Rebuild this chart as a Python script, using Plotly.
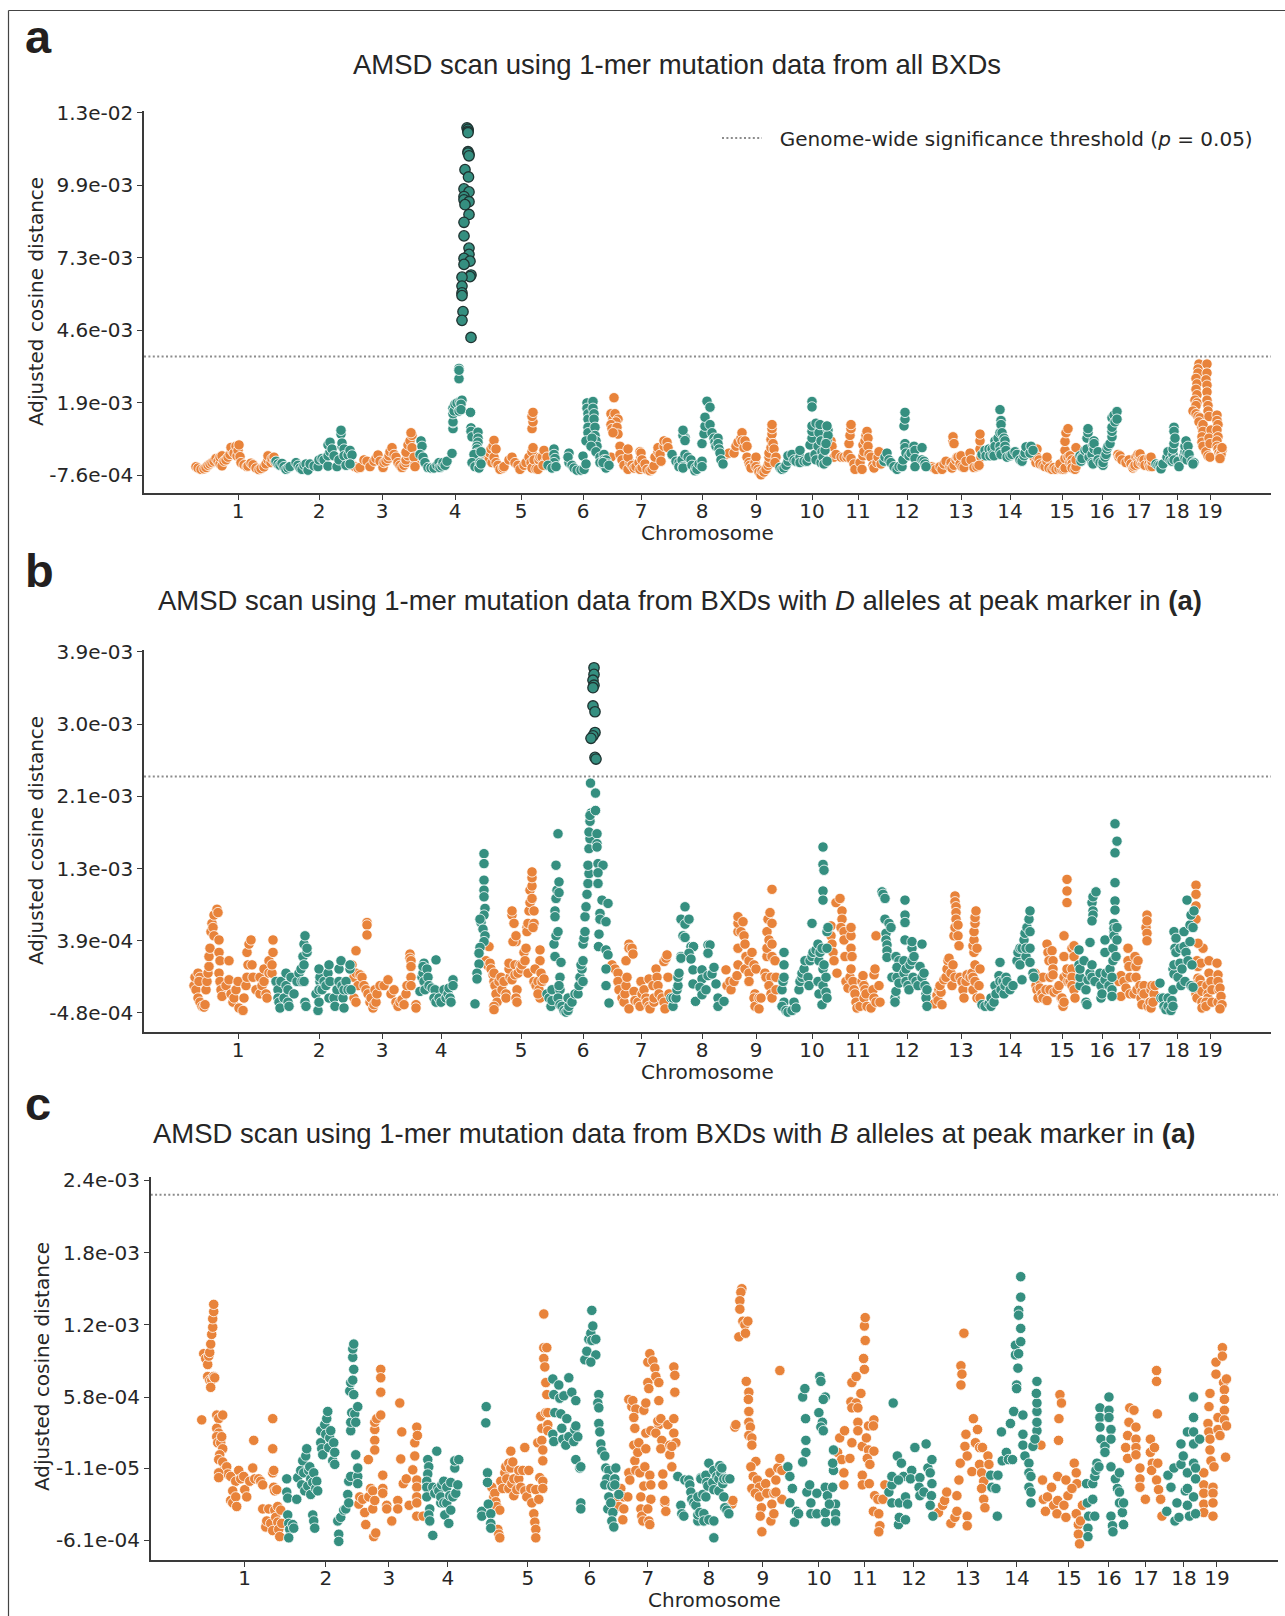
import plotly.graph_objects as go

# All y values are adjusted cosine distances in units of 1e-4.
# x is position along the concatenated genome (arbitrary marker-position units).
chrom_labels = [str(i) for i in range(1, 20)]
ticks_ab_a = [94,175,238,311,377,439,497,558,612,668,714,763,817,866,918,958,995,1033,1066]
ticks_b_c = [94,175,238,297,377,439,497,558,612,668,714,763,817,866,918,958,995,1033,1066]

a_ytick_vals = [-7.6,19.1,45.8,72.5,99.2,125.9]
a_ytick_text = ["-7.6e-04","1.9e-03","4.6e-03","7.3e-03","9.9e-03","1.3e-02"]
b_ytick_vals = [-4.8,3.9,12.6,21.3,30.0,38.7]
b_ytick_text = ["-4.8e-04","3.9e-04","1.3e-03","2.1e-03","3.0e-03","3.9e-03"]
c_ytick_vals = [-6.1,-0.11,5.8,11.8,17.8,23.8]
c_ytick_text = ["-6.1e-04","-1.1e-05","5.8e-04","1.2e-03","1.8e-03","2.4e-03"]

a_threshold = 36.1
b_threshold = 23.7
c_threshold = 22.6

a_peak = [(324,119.4),(323,120.3),(324,119.8),(324,119),(324,118.5),(324,111.5),(325,110.6),(324,111),(325,110),
(321,104.9),(324.5,102.2),(320,97.8),(325,96.7),(320,95),(320,93.8),(325,93.1),(321,92),(325,88.4),(320,85.5),(320,80.5),
(325,76),(325,73.7),(320,72.2),(326,71.2),(320,70),(327,66.1),(326,65.5),(318,65.3),(318,62),(318,59.5),(318,58.5),
(319,52.6),(318,49.4),(327,43.1)]

a_orange = [
# chr1
(52,-4.5),(54,-5),(57,-5.5),(60,-5.3),(62,-4.8),(64,-4),(66,-3.5),(68,-3),(70,-2.5),(72,-1.5),(74,-2.5),(76,-3.5),(78,-4.2),(76,-1),(78,-0.5),(80,-2.5),(82,-2),(84,-1),(86,0),(88,1.5),(87,2.6),(90,0.5),(92,3),(93,-0.5),(94,1.5),(95,3.5),(96,-0.8),(97,-3),(100,-3.8),(103,-4.5),(104,-4.3),(107,-3.2),(109,-3.8),(112,-5),(115,-5.6),(117,-5.2),(120,-4.6),(122,-3.5),(124,-2),(124,-0.5),(127,-3),(128,-1.5),(130,-1),(131,-2.8),
# chr3
(209,-4),(211,-4.5),(214,-5),(216,-4.8),(220,-2),(223,-2.5),(226,-4.5),(230,-2.5),(232,-1.5),(234,-0.2),(236,-2.5),(239,-4.8),(240,-3),(242,-2.5),(244,-1.5),(245,-0.5),(246,1),(248,2.5),(250,0),(252,-1),(254,-3),(256,-4),(258,-4.8),(260,-4),(262,-3),(262,-2),(264,-0.5),(262,0.8),(264,3.5),(266,5),(268,7),(267,8),(268,2.5),(271,-3.5),(270,-1),(271,-4.5),
# chr5
(341,-0.5),(343,-1.5),(345,-2),(346,0.5),(347,2),(348,-3),(349,3),(350,5.2),(350,-1),(352,2),(352,-3),(354,-4),(356,-5.5),(359,-5),(360,-4.5),(365,-2),(368,-1),(371,-3),(374,-4),(376,-5.5),(380,-4),(382,-3),(385,-1),(387,-3),(388,-5),(388,1),(389,2.5),(388,9.5),(389,12),(388,14),(389,15.5),(390,-2),(392,-5.3),(394,-5.5),(395,-2),(396,-1),(398,-1),(400,1.5),(401,-3),(399,-4),(403,-1),
# chr7
(470,20.9),(467,15),(469,13),(471,15),(474,13),(472,12),(467,11),(468,9.5),(473,10),(474,7.5),(469,8),(467,-1),(476,3),(476,0),(478,-2),(480,-4),(484,-5.5),(486,-3),(484,-1),(484,2),(488,-4),(490,-5),(492,-4.5),(495,-3),(496,-5.5),(498,-4.8),(496,1),(497,-1),(497,0.5),(498,-2),(501,-3.5),(503,-5.5),(506,-6),(508,-5.5),(510,-4.2),(511,-1),(514,1),(514,2.5),(516,0),(517,-2.5),(520,3),(520,5),(523,4.5),(524,2.5),
# chr9
(581,-0.2),(585,0.5),(590,0.5),(592,3),(594,4.5),(597,6),(598,8),(598,5),(600,2.5),(601,5),(603,3),(603,-1),(605,-3),(606,-4),(607,-5),(611,-3),(612,-1),(612,-4.5),(614,-5.5),(615,-6.5),(617,-7.5),(618,-6),(620,-6.5),(622,-5.5),(624,-4),(625,-3),(625,-1),(625,0.5),(627,2.5),(627,5.5),(628,7.5),(628,9.5),(628,11),(629,4),(630,2),(632,-1),(631,-3),
# chr11
(687,5),(688,3),(690,-1),(692,0),(697,-1),(700,-1),(703,-1),(705,4),(706,7),(707,9.5),(707,11),(704,0),(707,-1.5),(710,-3.5),(711,-5.5),(716,-3),(718,-5.5),(719,-0.5),(719,3.5),(720,1),(721,5),(722,7),(723,8.5),(724,6),(724,3),(725,0),(727,-1),(729,-4),(730,-5),(733,-3),(734,-1),(735,1),(737,-3.5),
# chr13
(788,-4.5),(790,-5),(792,-5.5),(796,-4.5),(798,-5.5),(800,-3.5),(802,-2.5),(806,-4.5),(807,-3),(808,-5),(810,-4),(812,-2),(813,-1),(809,5),(809,6.5),(810,4),(814,-1),(816,-3.5),(817,-0.5),(818,-4.5),(820,-4.8),(822,-2.5),(826,0.5),(827,-2),(830,-4.8),(833,-4.5),(837,-1),(836,2),(836,5),(836,7.5),(835,-4),
# chr15
(893,2),(890,0.5),(890,-1),(892,-3),(893,-1),(895,-2),(896,-3.5),(899,-4),(901,-4.5),(903,-2.5),(903,-1),(905,-5),(908,-5.5),(910,-4.8),(912,-5.5),(915,-5.2),(918,-5.5),(916,-3.5),(920,-5.5),(921,-5),(921,-1.5),(921,1.5),(921,4.8),(922,8),(924,9.5),(924,-1),(926,-0.5),(926,-3),(928,-2),(928,-3.5),(928,-5),(931,-5.5),(932,-4.5),(932,-2),(932,2.5),
# chr17
(974,0),(975,-1),(976,-0.5),(978,-2),(982,-3),(985,-2),(987,-3.5),(989,-5),(990,-4.5),(991,-4),(992,-1),(994,-2),(994,-3.5),(994,0),(996,-1),(997,-3),(996,0.2),(998,-2),(999,-3.5),(1000,-2),(1001,-4),(1005,-1.5),(1005,-3.5),(1006,-4.5),(1008,-3),(1008,-4.5),(1008,-2.5),(1007,-1),
# chr19
(1055,33.3),(1054,31.5),(1054,30),(1052,28),(1053,26),(1052,24),(1053,22),(1051,20),(1053,19),(1052,18),(1049,16),(1052,15),(1054,14),(1056,13.5),(1055,12),(1058,10),(1059,11),(1059,8.5),(1058,6.5),(1058,4.5),(1059,3),(1062,1),(1063,33.3),(1063,30),(1062,27.5),(1063,25.5),(1063,23),(1063,20),(1064,18),(1064,16),(1065,14),(1067,9),(1065,6),(1066,4),(1064,-0.5),(1066,-1),(1073,14.5),(1073,12.5),(1074,11),(1073,9),(1074,6.5),(1073,5),(1073,3),(1074,2),(1075,0.5),(1076,-0.5),(1078,1.5),(1077,0),(1078,2.5),(1076,-1.5)]

a_teal = [
# chr2
(132,-2.5),(134,-3.5),(136,-4),(138,-3.3),(140,-4.5),(142,-5.5),(144,-5),(146,-4.5),(152,-3),(154,-4),(156,-5),(158,-5.5),(160,-4),(162,-3.5),(164,-5.8),(166,-3.5),(170,-4.2),(174,-4.5),(175,-2),(178,-1.5),(180,-2),(184,-4.3),(184,-0.5),(186,1),(184,3.5),(186,4.5),(188,2),(190,-0.5),(193,-4.5),(195,-2),(197,7.5),(197,8.9),(198,3),(198,4.2),(200,2),(200,-0.5),(202,-4),(204,-0.2),(206,1.5),(208,-0.2),(206,-3.5),
# chr4
(277,5),(278,3),(276,0),(279,-1),(281,-3),(284,-4.8),(287,-5),(290,-5),(293,-4),(295,-3),(296,-4.8),(298,-4.3),(299,-3),(301,-4),(303,-2.5),(308,0.4),(309,9.5),(309,11.7),(309,12),(309,15),(309,17),(310,16),(311,18.5),(313,19),(316,19.5),(318,20),(315,16),(317,18.5),(317,16.5),(315,27.9),(315,31.7),(315,31),(326.5,15.5),(327,9.8),(327,8.5),(328,6.5),(334,8.2),(334,6),(334,4.5),(333,3),(333,2),(333,0.5),(334,-1),(330,0),(328,-3),(331,-4.5),(335,-5),(336,-3),(337,1),(337,-3.5),
# chr6
(410,2),(410,0),(411,-1.5),(410,-3),(404,-4),(408,-5),(412,-4.5),(425,0.5),(425,-3),(424,-1),(428,-4),(430,-5),(433,-5.8),(437,-5.8),(440,-5.5),(439,-0.6),(442,-3.5),(443,19),(443,17),(444,15),(444,13),(444,10),(444,8),(442,5),(449,19.5),(449,17),(450,15),(450,13),(451,10),(451,7),(452,5),(453,3),(448,6),(447,3),(452,1),(456,-1),(456,-3),(460,0),(460,-2),(462,-2),(464,-3.5),(460,-4),(462,-5),(459,-3),(465,-4),
# chr8
(528,0),(532,-2.5),(535,-3),(535,-4.5),(538,-2),(539,-4.5),(539,-5),(541,6.3),(539,7),(539,8.9),(541,5.1),(541,0),(544,-1),(547,-2),(548,-4),(551,-6),(552,-4.8),(553,-5.5),(555,-3.5),(558,-2.5),(558,-4.5),(558,4),(560,7.6),(561,10.4),(561,13.7),(563,19.6),(566,17.4),(566,11),(568,8),(570,6),(571,4.5),(572,3),(574,6),(574,4),(575,2),(576,0.5),(577,-2),(579,-3.5),
# chr10
(636,-4.8),(638,-5.5),(640,-5),(642,-4),(644,-2.5),(644,-0.5),(648,0),(650,-2),(652,-2.5),(656,-1),(656,-3),(656,1.5),(660,-2.5),(663,-2.5),(665,-1),(666,3.5),(668,6),(668,8.5),(668,10.5),(668,19.5),(668,17.5),(671,0),(672,-2),(672,11.5),(674,3),(675,8),(676,11),(677,5),(678,1),(677,-3),(679,-1),(680,-3.5),(681,1.5),(683,5),(684,9),(684,7),(683,10.5),(682,4),(683,-2.5),
# chr12
(740,-2.5),(741,-1),(743,0.5),(745,-2),(747,-3),(750,-4.5),(753,-5.5),(755,-4.5),(758,-4.5),(759,-2),(760,10.5),(761,13),(761,15.5),(761,4),(761,2.5),(762,0.5),(765,-0.5),(767,0.5),(770,3),(771,1.5),(771,-1.5),(771,-4.5),(778,-2),(778,2.5),(780,-2.5),(781,-3.5),(782,-4.5),
# chr14
(838,0),(841,1.5),(842,-0.5),(845,2),(846,-0.5),(848,2),(849,0),(850,-0.5),(851,5),(851,3),(854,6),(856,8),(856,3),(856,1),(857,0),(856,16.5),(857,12.5),(857,11),(858,8),(860,6),(861,5),(861,3),(862,1.5),(863,-1),(866,-0.5),(868,0),(871,1),(873,0),(876,-2),(878,-2.5),(880,-0.5),(881,0.5),(882,2.8),(886,0.5),(887,3),(889,1.5),
# chr16
(936,-0.5),(938,-1),(937,-2.5),(938,-1.5),(941,1.5),(945,-1),(943,2),(943,6),(944,8),(944,9.5),(948,0),(948,-3),(949,-3.5),(949,3.5),(950,2),(950,5),(950,4),(954,1),(954,-2),(956,-3),(959,-4),(959,-3),(961,-1),(962,0),(963,2),(964,3),(966,4),(968,6.5),(968,8.5),(968,10),(968,13.5),(970,14.5),(971,12),(973,15.8),(973,13),
# chr18
(1012,-3.5),(1014,-4),(1016,-4),(1017,-5.3),(1019,-3.5),(1023,-1),(1024,1),(1026,-2),(1028,-2.5),(1029,0),(1029,2),(1030,4),(1030,-2),(1030,10),(1030,8.5),(1031,6),(1034,-2.5),(1035,-4.5),(1040,-0.5),(1041,1),(1041,3),(1042,5),(1041,-1.5),(1043,0.5),(1043,-2),(1044,3),(1045,0),(1048,-2.5),(1050,-3),(1049,-3.5)]

b_peak = [(450,36.8),(450,36),(449,35.3),(450,34.7),(449,34.4),(449,32.2),(451,31.5),(451,29),(449,28.6),(447,28.3),(451,26),(452,25.8)]

b_orange = [
# chr1
(50,-1.5),(51,-0.5),(52,-2),(54,0),(56,-0.5),(55,-1),(54,-3),(56,-3.5),(58,-4),(60,-4.1),(61,-3.8),(62,-2),(63,-1),(64,0),(65,0.8),(65,2),(66,3),(67,5),(68,6),(69,5.5),(70,4.5),(70,7),(73,7.7),(74,7.3),(75,4),(75,2.5),(76,1.5),(75,0),(76,-1),(77,-2),(78,-2.8),(82,-1.5),(85,1.5),(85,-0.8),(87,-2.5),(89,-3.5),(90,-3),(92,-2),(94,-1),(95,-4.2),(99,-4.5),(100,-3),(102,-1.5),(103,-0.5),(104,1),(103,2.5),(105,3.5),(107,4),(108,1),(109,-0.5),(112,-2),(116,-0.5),(116,-2.5),(118,-1.5),(120,0.5),(120,-1),(122,-2.5),(123,-3),(125,1.5),(125,0),(128,0),(129,2.5),(129,4),(128,1),
# chr3
(208,1),(210,-0.5),(210,-3),(212,0),(212,2.7),(212,-3.5),(214,-1.5),(216,-0.2),(218,-0.5),(220,-1.5),(222,-2),(223,6.1),(223,5.8),(223,4.6),(224,-2.5),(226,-3.5),(227,-3),(229,-4.2),(230,-3.8),(232,-3.5),(231,-2),(233,-2.5),(236,-1.5),(240,-1.5),(244,-0.8),(247,-2.5),(250,-2),(252,-3.5),(254,-4),(256,-3.5),(258,-3.2),(260,-3.8),(262,-2.5),(263,-1.5),(266,2.3),(266,1.8),(267,1.5),(267,0.8),(267,-0.5),(267,-1.5),(272,-3.8),(272,-4.2),
# chr5
(342,1.5),(344,0.9),(346,1.2),(345,3.2),(347,0.5),(349,-0.2),(350,-1),(351,-1.5),(352,-2.5),(350,0),(353,-3.5),(350,-4),(350,-4.4),(355,-1),(357,-0.5),(358,-2),(360,-1),(362,-2.5),(362,-3),(366,-0.5),(365,0.5),(365,1.2),(368,-0.8),(371,1),(371,-0.2),(372,3.8),(369,3.8),(368,7),(368,7.5),(370,6),(372,4.5),(373,-2),(372,-3),(373,-3.5),(374,0),(376,1),(377,0.5),(380,2.5),(378,1),(381,1.5),(382,3),(384,0),(383,5.5),(383,5),(384,6),(385,7.5),(386,8.5),(386,10),(388,10.5),(388,11.5),(388,12.2),(388,9),(390,7.5),(390,6),(389,5.5),(396,2.8),(396,1.5),(391,0.5),(390,-1),(392,-1.5),(394,-1),(395,-2),(396,-3),(397,0),(394,-2.5),(398,-1),(400,-0.7),
# chr7
(468,1),(471,0.5),(474,0),(474,-1),(475,-2),(478,-3),(480,-3.5),(481,-2.5),(482,-1.5),(483,-0.5),(485,3.5),(482,1.5),(485,3),(488,3),(489,2.3),(485,-4.3),(490,-2.2),(491,-3.3),(494,-3.5),(496,-4),(498,-2.5),(497,-1),(500,-2),(502,-3),(503,-3.5),(505,-4),(506,-4.3),(505,-0.7),(509,-1.5),(510,-3.5),(510,-3),(512,0.5),(513,-0.5),(514,-1.5),(515,-2.5),(518,-3),(520,-3.5),(521,-4.3),(520,1.4),(522,1.8),(523,2.2),(524,-0.5),(525,-2.5),
# chr9
(582,0.4),(583,-1.5),(586,-1),(587,-2),(590,-1),(593,-0.3),(594,1),(594,3),(594,5),(594,6),(594,6.8),(597,5),(599,6.2),(600,4.5),(601,3.5),(602,2),(601,0.5),(605,0),(605,-1),(605,1.5),(608,2.5),(610,1),(611,-2.5),(612,0.5),(610,-3),(611,-4),(615,-3),(615,-4.3),(617,-3),(621,0),(622,-0.5),(623,2),(623,3),(624,6.5),(623,5),(625,4),(626,7.3),(628,6),(628,3.5),(628,2),(627,-0.5),(625,-1.5),(627,-2.5),(628,-3),(631,1.5),(632,-0.5),(632,-2),(628,10.1),
# chr11
(687,5.7),(687,4.5),(688,3.5),(689,2.5),(690,1.5),(693,0),(692,8.5),(696,9),(698,7.5),(698,6.5),(697,5.5),(700,5),(700,4),(701,2),(702,-1),(704,-1.8),(706,-0.5),(707,0.5),(707,3),(707,4.5),(707,5.5),(708,2),(709,-1),(710,-2),(711,-2.5),(712,-3.5),(713,-4.2),(716,-4),(718,-1),(719,-0.3),(720,-1.5),(721,-2),(720,-3),(722,-2.5),(723,-4),(727,-4.2),(729,-2),(730,-3),(730,-0.2),(731,0.5),(732,-3.5),(735,-1.5),(736,-3.5),(732,4.5),
# chr13
(790,-3.7),(793,-2.7),(794,-3.3),(795,-2),(797,-2.3),(796,-1.5),(798,-3.8),(800,-0.8),(802,-0.5),(803,0.5),(804,1.5),(805,1.8),(807,0),(808,-1.5),(809,1),(811,-0.5),(810,4.5),(811,9.3),(811,8.6),(812,8),(812,7.3),(812,6.5),(811,5.5),(814,5.8),(814,4.5),(815,3.3),(816,-0.5),(818,-1),(819,-2),(820,-3),(822,-1),(823,-0.2),(826,-0.5),(828,0),(829,-2),(829,-0.5),(830,2.5),(829,3.3),(830,4),(830,5),(831,6),(831,6.7),(832,7.5),(831,1),(831,-1),(833,3),(833,-3),(835,-1.5),(836,-3),(836,0.5),
# chr15
(891,0),(892,-1.5),(893,-2),(894,-3),(895,-0.8),(896,-1.8),(898,-2.5),(899,-3),(899,-0.5),(902,-2),(903,-3.3),(903,3.5),(904,2.5),(905,1.5),(906,-0.5),(906,-2),(908,2.7),(909,1.5),(909,0.5),(909,-0.2),(910,-2.3),(913,-2),(915,-1.5),(917,-3),(918,-3),(919,-4),(920,-3.5),(920,-0.5),(920,2),(920,4.5),(924,-1),(926,-1),(923,0),(923,0.5),(923,11.3),(923,9.9),(923,8.5),(928,3),(930,3.3),(930,2),(928,0.5),(928,-0.5),(928,-1.5),(930,-2),(931,-3),
# chr17
(975,-1),(977,-0.3),(977,-2.8),(980,-1),(982,-1.8),(984,3),(984,1.5),(985,0.8),(986,-0.5),(986,-2.5),(990,-2.5),(991,2),(992,0.8),(992,-0.5),(993,-2),(994,1.5),(996,-1.5),(997,-3),(998,-2.2),(998,-3.8),(1000,-1.5),(1000,-2.5),(1002,5.5),(1003,7),(1003,6.3),(1003,4.8),(1003,3.9),(1004,-4),(1006,-3.5),(1007,-2),(1007,-4.2),(1008,-1.5),(1010,-2.5),(1009,-3.5),(1011,-1.5),
# chr19
(1053,1.5),(1054,0.8),(1054,-0.6),(1053,-1.3),(1052,-2.5),(1053,-3),(1056,-0.8),(1057,-1.5),(1058,-2.2),(1058,-3.5),(1058,-4.2),(1059,3),(1057,1.2),(1052,10.6),(1052,9.5),(1052,8.1),(1052,6.5),(1054,3.6),(1063,-1.5),(1064,-2.5),(1064,-3),(1065,1.5),(1065,0),(1062,-3.5),(1062,-4),(1067,-1),(1068,-2),(1068,-3.5),(1073,1.2),(1074,-0.2),(1074,-1),(1075,-2),(1074,-3.5),(1076,-1.8),(1077,-2.8),(1078,-3.8),(1076,-4.3)]

b_teal = [
# chr2
(132,-1),(134,-2),(134,-3),(135,-3.5),(136,-4.2),(137,-1),(140,-3),(142,0),(142,-1.5),(144,-2),(144,-3.5),(145,-4),(147,-0.5),(150,-2.5),(153,-1),(155,0),(157,0.5),(158,-1),(159,2),(160,1),(160,3.5),(160,-1),(161,4.5),(163,2.5),(163,3),(161,-3.5),(162,-4),(172,-2.5),(174,-4.5),(175,-3.5),(176,-1),(175,-2),(176,-0.5),(175,0.5),(178,-2),(180,-1),(182,-1.5),(184,0),(185,-3),(186,-1),(185,1),(190,-3),(191,-4),(193,-2),(195,-1),(195,0.5),(197,1.5),(198,-1.5),(199,-3),(200,-2),(200,-4.2),(202,-1),(204,-2),(206,0.5),(206,1),(207,-2),
# chr4
(276,-2.2),(278,-0.5),(279,0),(280,1.2),(279,0.8),(280,-1),(281,-2),(283,0.5),(284,-0.5),(285,-1.5),(288,-1.8),(291,-2),(290,-3),(292,-3.5),(292,1.6),(295,-3),(297,-3.5),(300,-2),(302,-3),(304,-2.5),(305,-1.8),(306,-3),(307,-3.5),(309,-0.8),(309,-1.5),
(331,-3.7),(340,14.4),(340,13.2),(340,11.2),(340,10),(340,9.2),(341,7.8),(340,7),(337,6.1),(336,6.5),(339,5.3),(341,4.5),(340,3.8),(336,3.1),(335,2.4),(335,1.1),(333,0),(333,-0.7),
# chr6
(403,-2.5),(405,-3),(407,-4),(408,-3.3),(408,-2),(411,2),(410,3.5),(411,7.5),(411,6.8),(412,9),(413,10),(414,16.8),(412,13),(415,11),(415,9.7),(412,4.5),(414,5),(416,-0.5),(417,1.3),(416,-2),(415,-1.5),(414,-3),(416,-3.8),(418,-4),(420,-4.5),(422,-4.7),(424,-4.5),(425,-4),(424,-3),(428,-3.5),(431,-2.5),(434,-2.5),(435,-1.5),(436,-0.5),(438,0.5),(437,1),(439,1.5),(439,-1),(439,3.5),(440,4.2),(441,5),(441,6.8),(442,8),(443,9.5),(444,10.8),(445,12),(444,13),(445,15),(446,16.2),(445,17),(446,18.3),(447,19.3),(446,19),(446.5,22.9),(451.5,21.7),(451.5,19.6),(453,16.8),(453,15.6),(453,15.2),(454,13.2),(459,13),(454,12.1),(454,10.8),(458,8.8),(464,8.4),(456,7.2),(456,6.5),(462,6.2),(455,4.7),(454.5,3.2),(462,2.8),(464,2.2),(462,0.5),(462,-1.5),(465,-3.6),
# chr8
(527,-3),(529,-4),(529,-3),(532,-3),(533,-2),(534,-1.5),(534,-0.5),(535,0),(537,2),(541,8),(537,6.5),(541,5.9),(545,6.5),(539,4.5),(541,4.3),(547,3.2),(549.5,3.2),(545,2.4),(537,1.8),(547,1.7),(549,0.4),(549,-1.3),(551.5,-3.4),(558,0.4),(564,3.4),(566,3.4),(564,2.4),(558,-0.7),(556,-1.7),(558,-2.6),(562,-2),(564,-0.3),(568,-0.1),(570,0.7),(572,-1.3),(574,-3),(574,-4),(580,-3.4),
# chr10
(638,-2),(639,-1),(640,-0.5),(640,1),(640,2.5),(640,-3.5),(638,-4),(642,-4.5),(644,-4.7),(648,-4.5),(650,-3.5),(652,-4.2),(655,-2),(656,-1),(658,-0.5),(658,0),(660,0.5),(661,1.5),(664,-0.5),(666,1.5),(665,-1.5),(668,2),(669,2.5),(672,2.8),(668,6),(674,-1),(675,-2.5),(675,1.5),(674,3.5),(676,2.5),(678,-3.8),(678,3),(679,0.5),(679,-1.5),(680,1),(682,-0.5),(683,5),(684,5.5),(682,-2.3),(683,-3),(679,15.2),(679,13.1),(680,12.4),(679,9.9),(679,8.8),(683,3),
# chr12
(738,9.8),(739,9.5),(741,9),(741,6.5),(745,6),(742,4.8),(742,4),(743,3.4),(743,2.7),(743,1.9),(747,5.5),(752,2),(755,1.5),(751,-3),(751,-3.5),(752,-2.2),(748,-0.5),(753,-0.5),(755,-1.2),(753,0.7),(760,0),(760,1.5),(761,4),(761,7),(761,6.1),(761,8.8),(762,0.5),(762,-1),(764,-1.5),(765,-2),(766,1),(768,1.5),(768,3),(768,3.8),(769,-0.5),(770,2),(772,-1),(774,-1.5),(776,0.8),(778,3.5),(778,-0.5),(780,0),(781,-1.5),(782,-2.5),(782,-3),(783,-2),(783,-4),
# chr14
(838,-3.8),(841,-4),(845,-3.7),(847,-3),(847,-4),(850,-3.5),(851,-1.5),(852,-2.5),(855,-0.3),(856,-1),(856,1.3),(857,-2),(859,-1),(860,-2.5),(861,-1.5),(862,-0.5),(863,-1),(866,-2),(869,-1.5),(873,1.5),(874,2.5),(876,1),(876,3),(878,-0.8),(878,3),(880,4),(881,4.8),(882,2),(882,3),(883,5.5),(885,6.5),(886,7.5),(886,3),(886,1.3),(886,5),(889,0),(890,-0.5),
# chr16
(936,-1.5),(935,1),(935,2.8),(936,-0.5),(936,0.5),(940,1.5),(942,-2),(942,-3.5),(943,-3.8),(944,-0.8),(946,0),(946,3.7),(948,-0.5),(948,1),(948,8.5),(949,9.2),(949,7.5),(949,7),(948,6.3),(951,-1),(952,9.8),(956,0),(957,-1.5),(957,-3),(958,-2.5),(961,-0.8),(961,2.5),(961,4),(962,0),(965,-1.5),(966,0.5),(968,-0.5),(968,-2),(968,-2.8),(970,6),(970,5),(970,5.4),(970,4.5),(969,3),(969,1.5),(972,2),(973,4),(973,5.5),(971,8.7),(971,7.6),(971,10.9),(971,14.5),(973,15.9),(971,18),
# chr18
(1016,-1.2),(1017,-3),(1019,-3),(1020,-4),(1022,-4.4),(1024,-3),(1024,-4),(1027,-4.5),(1028,-3.3),(1029,-2),(1029,-4),(1029,0.5),(1030,-0.1),(1030,1),(1030,5),(1032,4.2),(1031,3),(1032,2.5),(1034,-0.5),(1036,1.2),(1036,3),(1037,-1.5),(1038,0.5),(1040,5),(1040,3.2),(1041,-1),(1042,2.5),(1043,8.8),(1044,1.5),(1046,3.8),(1046,5.8),(1047,7),(1047,-1.5),(1048,1),(1049,-1.7),(1049,5.5),(1050,7.5)]

c_orange = [
# chr1
(51,3.9),(53,9.4),(55,9),(57,8.5),(57,7.5),(58,9.2),(59,9.5),(60,10.2),(61,11),(62,11.6),(62,12.3),(63,12.9),(63,13.5),(59,7.2),(61,7.2),(63,7.5),(64,7.4),(60,6.6),(66,4.3),(68,4),(72,4.3),(66,3.2),(68,2.8),(66,2.5),(67,2),(70,2),(71,2.5),(72,1.5),(69,1),(68,0.6),(72,0.4),(74,-0.2),(76,0),(77,-0.6),(68,-0.5),(68,-0.9),(80,-0.8),(85,-1.2),(82,-2),(80,-2.8),(82,-3),(85,-2.5),(86,-3.3),(88,-0.3),(90,-1),(93,-0.8),(94,-1.9),(96,-2.5),(99,-1.2),(102,-0.1),(103,2.2),(104,-1),(108,-1),(110,-1.2),(112,-1.5),(112,-3.5),(115,-5),(116,-4.5),(118,-3.5),(120,-4.7),(122,-5.3),(122,-0.5),(123,-1.7),(123,-0.3),(122,1.5),(122,4),(124,-2),(126,-1.9),(124,-3.6),(125,-4.2),(127,-3.3),(127,-4.6),(128,-5.2),(129,-5.8),(131,-4.7),(130,-3.6),
# chr3
(208,-3.1),(209,-2.5),(212,-2.7),(214,-3.8),(215,-4.8),(218,-2.5),(220,-1.8),(222,-2),(222,-3.5),(223,-5.8),(225,-5.5),(217.6,0.6),(224,-2.8),(224,3.1),(224,3.7),(226,4),(224,2.2),(224,1.4),(230,8.1),(230,7.4),(230,6.2),(230,4.3),(232,-0.7),(232,-1.8),(232,-2.2),(236,-3.2),(236,-3.5),(241,-4.5),(247,-2.8),(247,-3.5),(249,5.3),(251,2.9),(250,0.65),(252.5,-1.4),(255.5,-1),(258.4,-3.2),(262,-0.25),(264,0.9),(264,2),(266,3.3),(266.6,2.6),(266,-1.1),(266,-1.7),(266,-2.5),(266,-3),(266,-4.1),(272.3,-4.1),
# chr5
(341,-1.7),(343,-2.5),(344,-2.2),(345,-2.9),(346,-3.3),(349,-3.6),(347,-5.2),(348,-5.6),(349,-5.9),(350,-1.2),(352,-1.8),(354,-0.5),(355,0),(356,-1),(358,-1.8),(358,0.3),(360,1.3),(360,-0.1),(362,0.4),(361,-1.4),(363,-1),(363,-2.4),(366,-1.9),(368,-1),(368,-0.3),(370,-1.7),(372,-0.3),(374,1.6),(374,-2),(376,-2.5),(378,-0.3),(380,-1.8),(381,-3),(383,-3.9),(384,-4.6),(385,-5.2),(385,-5.9),(385,-1.9),(387,2),(388,-2.7),(389,-0.9),(390,4.2),(391,3.2),(391,2.2),(392,0.5),(392,1.4),(392,-1.2),(392,-1.8),(393,12.7),(393,9.9),(393,9),(396,9.9),(394,8.3),(395,7),(396,6),(395,4.5),(397,4.5),(397,3.5),(397,3),
# chr7
(466,-2.5),(468,-3.3),(470,-1.8),(472,-4.4),(473,-2.5),(473,-3.5),(477,-2.5),(478,-0.5),(479,-1.1),(478,5.6),(481,5),(482,5.5),(485,4.8),(483,4.1),(484,3.2),(483,1.8),(484,0.5),(485,-0.3),(487,1.2),(488,2),(489,-0.5),(490,-2.5),(490,-3.5),(491,-4.1),(492,-4.5),(493,-1.6),(494,0),(495,1.5),(495,2.8),(493,4.7),(495,5.3),(497,7),(497,8.7),(499,9.4),(498,6.5),(502,8.8),(504,8.2),(505,7.5),(508,7),(508,5.5),(508,3.5),(500,3),(499,-0.7),(500,-1.5),(500,-2.7),(497,-3.5),(498,-4.5),(499,-4.8),(505,2.8),(507,3.8),(510,4),(511,2.2),(510,1.5),(512,-0.6),(512,-1.5),(514,-3),(515,-3.7),(514,-2.8),(517,3.5),(519,1.8),(519,1),(523,8.3),(524,7.6),(524,6.2),(523,4),(523,2.8),(525,2),(521,1.7),(521,0),
# chr9
(581,-3.1),(582,-2.8),(584,3.3),(585,3.5),(588,10.8),(591,14.8),(590,14.5),(589,13.8),(589,13.1),(592,12.1),(594,11.8),(597,12.1),(594.6,11.1),(595.4,7.1),(598,6.2),(597.5,5.6),(598,4.6),(598,3.7),(599.5,3.3),(598,2.6),(601,2.4),(601,1.8),(605,0.45),(600,0),(602.4,-0.8),(606.5,-1.1),(601,-1.8),(608.6,-1.7),(604.5,-2.2),(608.6,-2.5),(610.6,-3.4),(609.4,-4.1),(611,-5.4),(614.8,-1.4),(619,-0.5),(616,-2.2),(621,-3.1),(623,-2.2),(625,-1.1),(627,-0.1),(629,0.7),(631,-0.3),(631,-2.7),(620,-4.5),(625,-2.1),(623,-3.9),(629,8),
# chr11
(688.8,2.4),(686.7,1.2),(690.9,0.6),(693.7,3),(693,-0.5),(693,-1.5),(699,0.7),(701,2),(701,7),(705.3,7.5),(700,5.4),(705.3,5.3),(701,4.9),(707,4.9),(710,6.1),(707,3.7),(707,3),(711.4,1.7),(715.5,2.4),(717.6,3.4),(723,3.9),(722.5,3.4),(713.5,8.1),(712.7,9),(714.3,10.5),(713.5,11.7),(714.3,12.4),(717.6,1.4),(716.4,0.7),(719,0.2),(723,1.3),(711.4,-0.7),(711.4,-1.5),(718.4,-1.4),(723.8,-2.4),(727,-2.7),(722.5,-3.7),(727.9,-3.9),(729,-4.9),(727.9,-5.4),(734,-1.5),(732,-2.7),
# chr13
(787.5,-3.8),(791.7,-3.2),(793.7,-2.8),(795.8,-2.1),(800,-4.7),(804,-4.2),(806,-3.7),(806,-2.4),(808,-1.1),(809.3,0.3),(810,8.4),(811,7.7),(810,6.8),(813,11.1),(814,1.7),(815,2.7),(816.3,0.9),(816.3,-4.1),(816.3,-4.9),(821,-0.4),(824.5,2),(822.5,4),(826.6,3.1),(828.7,1.6),(831.5,1.6),(828.7,0.2),(830.7,-0.5),(832.8,-1.2),(830.7,-1.8),(832.8,-2.7),(834,-3.4),(837,0.9),(838,0.2),
# chr15
(890,1.8),(891.6,-1.1),(892.4,-2.7),(894.5,-3.7),(896.5,-2.5),(900.6,-1.7),(902.7,-3.2),(906.8,-2.8),(906.8,-0.8),(906,-3.9),(908,4),(907.6,2.2),(909,6),(910.5,5.3),(913,-3.2),(915,-1.1),(915,-4.2),(917,-2.4),(923.3,0.3),(925.3,-0.5),(926,-1.4),(921,-1.8),(925.3,-3.9),(927.4,-4.8),(927.4,-5.6),(928.6,-6.4),(931.5,-3.2),(929.5,-4.5),
# chr17
(974.7,1.6),(976.7,2.6),(978,3.7),(978.8,4.9),(976.7,0.7),(983,4.7),(985,3.3),(985,2.3),(985,1.6),(985,1),(989,-0.1),(989,-1),(989,-1.7),(994.4,-2.7),(999.4,2.3),(999.4,1.2),(1001.4,0.3),(1000.6,-0.3),(1005.6,8),(1005.6,7.1),(1006.4,4.4),(1003.5,1.6),(1006.8,0.3),(1005.6,-1.1),(1007.6,-1.9),(1009.7,-2.7),(1011,-4.1),
# chr19
(1052.8,-0.5),(1052.8,-1.5),(1052.8,-2.2),(1052.8,-3.1),(1052.8,-3.8),(1057,3.6),(1057.8,2.9),(1059,6.1),(1058,5),(1059,2.3),(1059,1.4),(1060,0.5),(1063,0),(1062,-1.7),(1062,-2.2),(1062,-3),(1062,-4.1),(1065,8.7),(1065,7.7),(1067,4.1),(1067,3.1),(1069,2.6),(1071.4,9.9),(1071.4,9.2),(1072.6,7),(1073.4,6.4),(1073.4,5.6),(1073.4,4.7),(1073.4,3.9),(1075.5,7.3),(1075.5,3.4),(1074.6,0.8)]

c_teal = [
# chr2
(136,-1),(136,-2.1),(137,-2.6),(137,-4),(138,-4.7),(139,-5.2),(138,-5.9),(142,-4.8),(143,-5.1),(146,-2.7),(147,-0.9),(150,-0.3),(151,-1.5),(152,0.5),(153,-0.5),(155,0.9),(156,1.5),(154,-2),(157,-1.6),(158,-0.3),(159,0),(160,-1),(160,-2.3),(162,-1.3),(163,-0.5),(162,-4),(163,-4.5),(164,-5.1),(165,-1.8),(166,-1.2),(167,-2),(170,3),(170,2),(171,1.5),(172,1),(174,3.5),(175,2.7),(176,4),(177,4.6),(178,1.6),(179,2.4),(180,3),(182,0.5),(183,2),(184,1.2),(184,0.2),(188,-5.6),(188,-6.2),(187,-4.5),(190,-4.2),(193,-3.6),(195,-3.5),(197,-2.3),(198,-3),(198,-1.2),(200,-0.8),(200,3),(200,3.7),(201,4.5),(199,6.3),(203,6),(200,7),(202,7.2),(203,8.1),(202,9.1),(202,9.8),(203,10.2),(204,4.4),(207,5),(205,3.7),(205,1),(207,-0.8),(207,-1.4),(207,-0.1),
# chr4
(277,0.6),(278,0),(277,-0.6),(276,-1.2),(276,-1.7),(276,-2.5),(279,-3.5),(278,-4),(279,-4.5),(282,-5.7),(282,-1.7),(284,-2.2),(286,1.3),(287,-1.8),(288,-2),(290,-3),(290,-2.5),(291,-1.5),(293,-1.2),(293,-3),(294,-4),(296,-1.7),(298,-4.7),(296,-3),(299,-2.4),(300,-1.3),(300,-3.6),(302,-2.5),(304,-0.1),(304,0.5),(305,-2.2),(307,-1.5),(308,0.6),
(331,-3.7),(331,-4.1),(337.5,-3.1),(340,-3.9),(340,-4.7),(340,-5.1),(335.4,5),(335,3.65),(336.7,-0.5),(336.7,-1.3),
# chr6
(402,7.3),(403,6),(404,4.5),(402,2.7),(403,2.1),(408,6.8),(409,5.7),(410,4.4),(411,3.2),(412,2.3),(413,5.9),(415,1.8),(416,4),(418,2.5),(418,7.4),(421,6.2),(423,2.1),(424,3.1),(425,5.5),(425,3.4),(427,2.5),(425,0.6),(429,-0.1),(430,0),(430,-3),(430,-3.5),(434,8.9),(436,9.6),(438,10.6),(440,11.1),(441,10.5),(442,11.7),(445,10.6),(445,9.3),(440,8.7),(441,13),(448,6),(447,5.3),(448,4.9),(448,3.6),(449,2.9),(450,1.9),(451,1.3),(454,0.9),(455,-0.1),(458,-0.3),(456,-1),(454,-1.5),(458,-2.5),(457,-3.5),(460,-3),(461,-1.6),(462,-3.8),(464,-1),(465,-0.1),(464,-1.5),(461,-4.5),(463,-5),(468,-2.3),
# chr8
(527,-0.8),(530,-3.2),(531,-3.9),(533,-4.1),(534,-1.1),(538,-1.1),(539,-1.5),(540,-2.1),(541,-2.7),(543,-3),(545,-3.2),(547,-4.5),(547,-4),(547,-2.5),(549,-3.8),(550,-0.9),(550,-1),(552,-2.3),(553,-3.9),(553,-4.5),(555,-2.5),(555,-0.7),(556,-1.3),(557,-1.6),(558,-4.4),(558,0.3),(562,-1.3),(563,-0.3),(563,-1.9),(563,-4.5),(563,-5.9),(566,-0.8),(568,-1),(568,-2),(569,0.1),(570,-0.5),(571,-0.1),(572,-1.4),(573,-2.5),(573,-1),(574,-3.4),(576,-1),(576,-3.6),(578,-3.9),(579,-1),
# chr10
(637,0),(639,-0.8),(641.5,-1.8),(639,-3),(645.6,-3.7),(643.6,-4.6),(647.7,-3.9),(651.8,5.8),(654,6.5),(654.7,4),(655,2.2),(655,1.2),(651.8,0.4),(656,-2.1),(658.8,-1.5),(660,-3),(660,-3.9),(666,-2.2),(666,-3.9),(669,7.5),(670,7.1),(674.4,5.8),(672.4,5.6),(668,4.5),(671.5,3.7),(670,3.3),(672.4,3),(674.4,-1.7),(676.5,-2.4),(675,-4.6),(681.8,-1.7),(682.6,-0.3),(681.8,0.3),(682.6,1.4),(684.7,-3.1),(684.7,-3.9),(684.7,-4.5),(674.4,-3.8),(678.5,-3.1),
# chr12
(738,-2.1),(741,-1.5),(741,-0.8),(741,-3),(742.3,5.3),(746.4,0.9),(750.5,0.3),(752.6,-0.8),(747.6,-1.1),(748.4,-3),(747.6,-4.8),(748.4,-4.2),(754.6,-2.5),(754.6,-4.4),(756.7,-3.1),(760.8,-0.3),(759.6,-1),(764,1.6),(769,-0.9),(768.2,-1.7),(769,-2.4),(775.2,1.9),(773,-2.1),(777,-0.1),(779.3,-0.5),(781,0.6),(781,-1.4),(780.5,-2.4),(779.3,-3.2),(782,-4.1),
# chr14
(839.8,-0.7),(841,-1.7),(845,-1.8),(847,-0.7),(846.4,-4.1),(850.5,2.9),(851.3,0.5),(855.4,1.2),(857.5,0.6),(859.5,3.6),(862.8,4.6),(861.6,0.6),(864.5,10.1),(864.5,9.3),(867.7,9.4),(869.8,10.4),(869.8,11.5),(867.7,13),(867.7,12.6),(869.8,14.1),(869.8,15.8),(867,8.2),(865.7,6.8),(865.7,6.5),(872,4.3),(872,2.7),(872,1.8),(874,0.9),(878,0.3),(878,-0.5),(880,-0.8),(878,-1.7),(880,-2.1),(880,-3),(882,1.7),(886,3),(886,3.7),(886,4.6),(886,5.3),(885.4,6.1),(886,7.1),(884,2.3),
# chr16
(935.6,-1.4),(936.4,-3),(937.7,-4.1),(937,-5.1),(937,-5.8),(941.8,-1.4),(941.8,-2.7),(943.8,-4.1),(943.8,-0.8),(946,0.3),(945,-0.3),(948,0),(949,4.9),(949,4.1),(949,3.3),(950,2.3),(954,1.7),(958,5.8),(958,4.7),(958,4.1),(960,3.1),(960,2.3),(954,1.2),(960,0),(960,-4.1),(961.5,-4.9),(962,-5.4),(964.4,-1),(966.5,-1.8),(968.5,-0.5),(968.5,-3),(971.4,-3.8),(972.6,-4.8),(972.6,-3),(968.5,-2.1),
# chr18
(1015.8,-3.7),(1017,-0.7),(1020,-1.7),(1023,-0.1),(1024,-4.5),(1026,-3),(1028,-4.2),(1030,1.9),(1030,0.2),(1032.3,0.9),(1034.3,-2),(1036.4,2.9),(1036.4,-0.5),(1038.5,-4.1),(1042.6,5.8),(1042.6,4.1),(1042.6,2.9),(1042.6,1.9),(1042.6,0.3),(1044.6,-0.1),(1044.6,-1),(1044.6,-3.9),(1042.6,-2.5),(1036.4,-3.2),(1036.4,-1.8),(1048.7,2.3)]

ORANGE = "#E8833A"
TEAL = "#358F80"
TEXT = "#262626"
W, H = 1285, 1616
FONT = "DejaVu Sans"


def unzip(pairs):
    return [p[0] for p in pairs], [p[1] for p in pairs]


panels = [
    dict(n="", left=144, right=1271, top=111, bottom=493, yr=[-14.2, 126.5], tv=a_ytick_vals, tt=a_ytick_text,
         th=a_threshold, ticks=ticks_ab_a, series=[(a_orange, ORANGE, False), (a_teal, TEAL, False), (a_peak, TEAL, True)]),
    dict(n="2", left=144, right=1271, top=650, bottom=1032.4, yr=[-7.14, 38.94], tv=b_ytick_vals, tt=b_ytick_text,
         th=b_threshold, ticks=ticks_b_c, series=[(b_orange, ORANGE, False), (b_teal, TEAL, False), (b_peak, TEAL, True)]),
    dict(n="3", left=150.7, right=1278, top=1176.8, bottom=1560.3, yr=[-7.77, 24.1], tv=c_ytick_vals, tt=c_ytick_text,
         th=c_threshold, ticks=ticks_b_c, series=[(c_orange, ORANGE, False), (c_teal, TEAL, False)]),
]

fig = go.Figure()
layout = dict(
    width=W, height=H, margin=dict(l=0, r=0, t=0, b=0, autoexpand=False), autosize=False,
    paper_bgcolor="white", plot_bgcolor="white", showlegend=True,
    font=dict(family=FONT, color=TEXT, size=20),
    legend=dict(x=1258 / W, xanchor="right", y=1 - 138 / H, yanchor="middle", bgcolor="rgba(0,0,0,0)",
                font=dict(size=20, family=FONT, color=TEXT), itemwidth=40, borderwidth=0),
)

for i, p in enumerate(panels):
    xa, ya = "x" + p["n"], "y" + p["n"]
    axis_common = dict(showgrid=False, zeroline=False, showline=True, linecolor="#3a3a3a", linewidth=1.6,
                       ticks="outside", ticklen=5, tickwidth=1.4, tickcolor="#3a3a3a",
                       tickfont=dict(family=FONT, size=20, color=TEXT))
    layout["xaxis" + p["n"]] = dict(domain=[p["left"] / W, p["right"] / W], range=[0, 1127], anchor=ya,
                                    tickmode="array", tickvals=p["ticks"], ticktext=chrom_labels,
                                    ticklabelstandoff=-6, **axis_common)
    layout["yaxis" + p["n"]] = dict(domain=[1 - p["bottom"] / H, 1 - p["top"] / H], range=p["yr"], anchor=xa,
                                    tickmode="array", tickvals=p["tv"], ticktext=p["tt"], **axis_common)
    fig.add_trace(go.Scatter(x=[0, 1127], y=[p["th"], p["th"]], xaxis=xa, yaxis=ya, mode="lines",
                             line=dict(color="#8c8c8c", width=2, dash="2px,2.4px"),
                             name="\u00a0\u00a0Genome-wide significance threshold (<i>p</i> = 0.05)",
                             showlegend=(i == 0), hoverinfo="skip"))
    for pts, col, peak in p["series"]:
        xs, ys = unzip(pts)
        fig.add_trace(go.Scatter(x=xs, y=ys, xaxis=xa, yaxis=ya, mode="markers", showlegend=False,
                                 marker=dict(color=col, size=10.4,
                                             line=dict(color="#1f3331" if peak else "#ffffff",
                                                       width=1.3 if peak else 0.8))))

annotations = []


def text(x, y, s, size, fam=FONT, angle=0, color=TEXT, xanchor="center"):
    annotations.append(dict(xref="paper", yref="paper", x=x / W, y=1 - y / H, text=s, showarrow=False,
                            font=dict(family=fam, size=size, color=color), textangle=angle,
                            xanchor=xanchor, yanchor="middle"))


TF = "Liberation Sans"
text(677, 65, "AMSD scan using 1-mer mutation data from all BXDs", 27.5, TF)
text(680, 600, "AMSD scan using 1-mer mutation data from BXDs with <i>D</i> alleles at peak marker in <b>(a)</b>", 27.5, TF)
text(674, 1133, "AMSD scan using 1-mer mutation data from BXDs with <i>B</i> alleles at peak marker in <b>(a)</b>", 27.5, TF)
text(23, 37, "<b>a</b>", 47, TF, color="#231f20", xanchor="left")
text(23, 571, "<b>b</b>", 47, TF, color="#231f20", xanchor="left")
text(23, 1103, "<b>c</b>", 47, TF, color="#231f20", xanchor="left")
text(36, 302, "Adjusted cosine distance", 20, angle=-90)
text(36, 841, "Adjusted cosine distance", 20, angle=-90)
text(42, 1367, "Adjusted cosine distance", 20, angle=-90)
text(707, 533, "Chromosome", 20)
text(707, 1072, "Chromosome", 20)
text(714, 1600, "Chromosome", 20)

layout["annotations"] = annotations
layout["shapes"] = [
    dict(type="line", xref="paper", yref="paper", x0=8.5 / W, x1=8.5 / W, y0=0, y1=1 - 10.5 / H,
         line=dict(color="#444444", width=1.2)),
    dict(type="line", xref="paper", yref="paper", x0=8.5 / W, x1=1, y0=1 - 10.5 / H, y1=1 - 10.5 / H,
         line=dict(color="#444444", width=1.2)),
]
fig.update_layout(**layout)
fig.write_html("out.html", post_script="document.body.style.margin='0';", config={"displayModeBar": False})
